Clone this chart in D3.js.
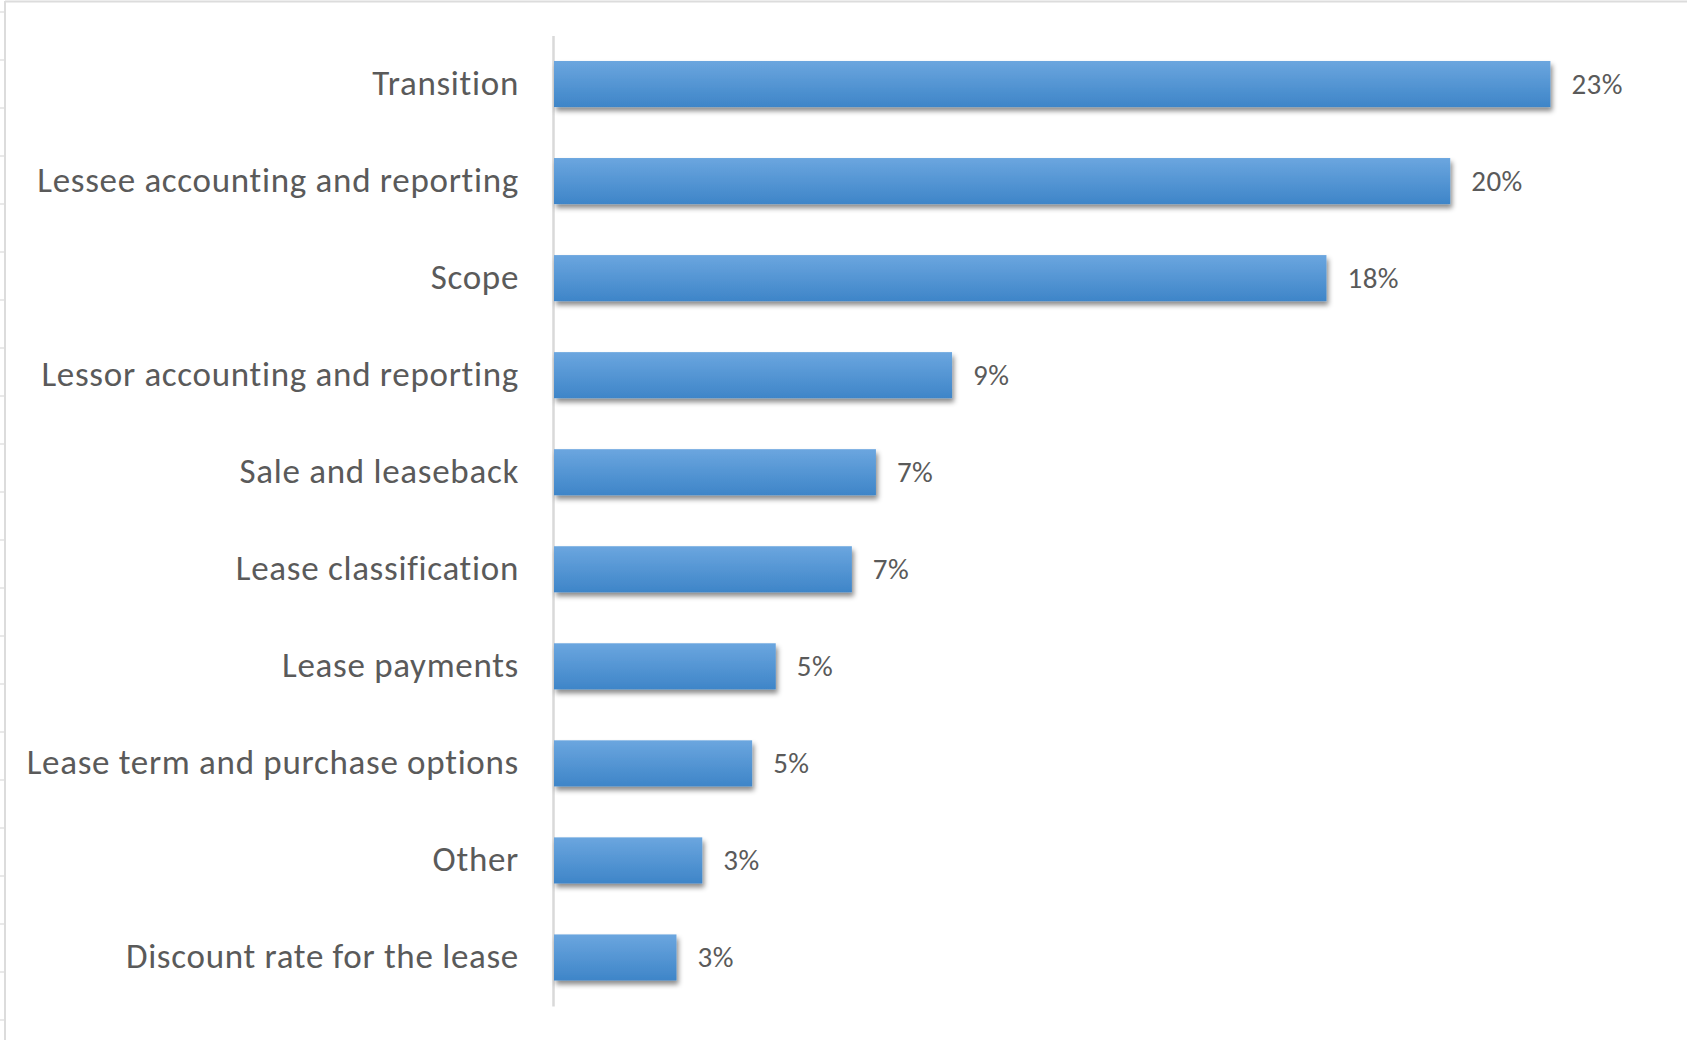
<!DOCTYPE html>
<html>
<head>
<meta charset="utf-8">
<script src="https://cdn.jsdelivr.net/npm/d3@7"></script>
<style>
  html, body { margin: 0; padding: 0; background: #fff; }
  svg { display: block; }
</style>
</head>
<body>
<div id="chart"></div>
<script>
// ---- data ----
const categories = [
  "Transition",
  "Lessee accounting and reporting",
  "Scope",
  "Lessor accounting and reporting",
  "Sale and leaseback",
  "Lease classification",
  "Lease payments",
  "Lease term and purchase options",
  "Other",
  "Discount rate for the lease"
];
const shares = [0.2278, 0.2049, 0.1766, 0.0910, 0.0736, 0.0681, 0.0507, 0.0453, 0.0339, 0.0280];
const xDomain = [0, 0.25];

// ---- layout ----
const W = 1687, H = 1040;
const svg = d3.select("#chart").append("svg").attr("width", W).attr("height", H);

const defs = svg.append("defs");
const grad = defs.append("linearGradient").attr("id", "barGrad")
  .attr("x1", 0).attr("y1", 0).attr("x2", 0).attr("y2", 1);
grad.append("stop").attr("offset", "0%").attr("stop-color", "#6ba6df");
grad.append("stop").attr("offset", "100%").attr("stop-color", "#3e85c8");

const flt = defs.append("filter").attr("id", "shadow")
  .attr("x", "-5%").attr("y", "-30%").attr("width", "115%").attr("height", "180%");
flt.append("feDropShadow").attr("dx", 2).attr("dy", 4).attr("stdDeviation", 2.5)
  .attr("flood-color", "#000").attr("flood-opacity", 0.45);

// spreadsheet-like frame
svg.append("line").attr("x1", 5).attr("x2", W).attr("y1", 1.5).attr("y2", 1.5)
  .attr("stroke", "#dcdcdc").attr("stroke-width", 2);
svg.append("line").attr("x1", 5).attr("x2", 5).attr("y1", 1).attr("y2", H)
  .attr("stroke", "#dcdcdc").attr("stroke-width", 2);
svg.append("g").selectAll("line").data(d3.range(12, H, 48)).join("line")
  .attr("x1", 0).attr("x2", 4).attr("y1", d => d).attr("y2", d => d)
  .attr("stroke", "#e2e2e2").attr("stroke-width", 1.5);

const x = d3.scaleLinear().domain(xDomain).range([554, 1647.5]);
const y = d3.scaleBand().domain(categories).range([35.5, 1006])
  .paddingInner(0.525).paddingOuter(0.2625);

const FONT = "Carlito, Calibri, Lato, 'Open Sans', sans-serif";

// category axis
const yAxis = d3.axisLeft(y).tickSize(0).tickPadding(34);
const gy = svg.append("g").attr("transform", "translate(553,0)").call(yAxis);
gy.select(".domain").attr("stroke", "#d9d9d9").attr("stroke-width", 2.5);
gy.selectAll("text")
  .attr("fill", "#5a5a5a")
  .attr("dy", "0.3em")
  .style("font-family", FONT)
  .style("font-size", "35px")
  .style("letter-spacing", "0.7px");

// bars
svg.append("g").selectAll("rect").data(categories).join("rect")
  .attr("x", x(0))
  .attr("y", d => y(d))
  .attr("width", (d, i) => x(shares[i]) - x(0))
  .attr("height", y.bandwidth())
  .attr("fill", "url(#barGrad)")
  .attr("filter", "url(#shadow)");

// value labels
const fmt = d3.format(".0%");
svg.append("g").selectAll("text").data(categories).join("text")
  .attr("x", (d, i) => x(shares[i]) + 21)
  .attr("y", d => y(d) + y.bandwidth() / 2)
  .attr("dy", "0.33em")
  .attr("fill", "#5a5a5a")
  .style("font-family", FONT)
  .style("font-size", "29px")
  .style("letter-spacing", "0.5px")
  .text((d, i) => fmt(shares[i]));
</script>
</body>
</html>
